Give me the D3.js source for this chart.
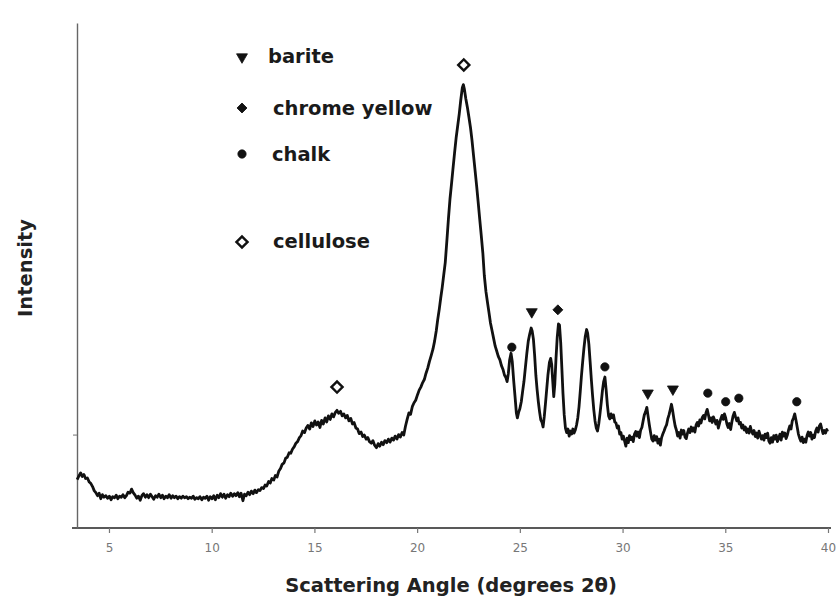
<!DOCTYPE html>
<html><head><meta charset="utf-8">
<script src="https://cdn.jsdelivr.net/npm/d3@7"></script>
<style>body{margin:0;background:#fff}svg{display:block}</style>
</head><body>
<svg id="chart" width="837" height="601"></svg>
<script>
// ---------- data (angle in degrees 2θ, intensity in arbitrary units) ----------
const lowAngleScan = [[3.45,9.6],[3.55,10.4],[3.62,10.9],[3.7,10.2],[3.78,10.6],[3.86,9.8],[3.95,9.9],[4.04,9.1],[4.12,8.8],[4.2,8.2],[4.28,7.4],[4.36,7.0],[4.44,6.4],[4.52,6.9],[4.6,5.8],[4.68,6.6],[4.76,6.1],
[4.85,6.4],[4.93,5.9],[5.02,6.3],[5.1,5.6],[5.18,6.2],[5.27,6.0],[5.35,6.5],[5.43,5.8],[5.52,6.3],[5.6,6.1],[5.68,6.6],[5.77,6.0],[5.85,6.4],[5.93,7.1],[6.02,6.9],[6.1,7.7],[6.18,7.0],[6.27,6.5],[6.35,5.9],[6.43,6.3],[6.52,5.5],[6.6,6.4],[6.68,6.8],[6.77,6.1],[6.85,6.6],[6.93,6.0],[7.02,6.7],[7.1,6.2],[7.18,5.7],[7.27,6.4],[7.35,6.1],[7.43,6.7],[7.52,6.0],[7.6,6.5],[7.68,5.8],[7.77,6.3],[7.85,6.0],[7.93,6.6],[8.02,5.9],[8.1,6.4],[8.18,6.0],[8.27,6.3],[8.35,5.8],[8.43,6.2],[8.52,5.9],[8.6,6.3],[8.68,6.0],[8.77,6.2],[8.85,5.8],[8.93,6.1],[9.02,5.9],[9.1,6.3],[9.18,5.7],[9.27,6.0],[9.35,5.8],[9.43,6.2],[9.52,5.6],[9.6,6.1],[9.68,5.9],[9.77,6.3],[9.85,5.5],[9.93,6.2],[10.02,5.8],[10.1,6.4],[10.18,5.6],[10.27,6.5],[10.35,6.0],[10.43,6.8],[10.52,6.1],[10.6,6.7],[10.68,5.9],[10.77,6.6],[10.85,6.2],[10.93,6.9],[11.02,6.3],[11.1,6.8],[11.18,6.4],[11.27,7.0],[11.35,6.2],[11.43,6.9],[11.52,5.4],[11.6,6.7],[11.68,6.4],[11.77,7.1],[11.85,6.6],[11.93,7.3],[12.02,6.8],[12.1,7.5],[12.18,7.0],[12.27,7.6],[12.35,7.4]];

const humpScan = [[12.43,8.0],[12.52,7.8],[12.6,8.5],[12.68,8.3],[12.77,9.2],[12.85,8.9],[12.93,9.8],[13.02,9.5],[13.1,10.4],[13.18,10.1],[13.27,11.3],[13.35,11.8],[13.43,12.6],[13.52,12.9],[13.6,13.8],[13.68,14.0],[13.77,14.9],[13.85,14.8],[13.93,15.6],[14.02,16.1],[14.1,16.8],[14.18,17.1],[14.27,17.9],[14.35,18.3],[14.43,19.2],[14.52,18.9],[14.6,19.8],[14.68,20.3],[14.77,19.6],[14.85,20.8],[14.93,20.1],[15.02,21.2],[15.1,20.4],[15.18,21.0],[15.27,19.9],[15.35,21.3],[15.43,20.6],[15.52,21.8],[15.6,21.0],[15.68,22.2],[15.77,21.5],[15.85,22.6],[15.93,22.0],[16.02,22.9],[16.1,23.3],[16.18,22.7],[16.27,23.1],[16.35,22.2],[16.43,22.6],[16.52,21.8],[16.6,22.3],[16.68,21.2],[16.77,21.7],[16.85,20.6],[16.93,20.9],[17.02,19.8],[17.1,19.6],[17.18,18.7],[17.27,19.0],[17.35,18.1],[17.43,18.4],[17.52,17.6],[17.6,17.9],[17.68,17.1],[17.77,16.8],[17.85,17.3],[17.93,16.4],[18.02,15.9],[18.1,16.7],[18.18,16.2],[18.27,17.0],[18.35,16.5],[18.43,17.3],[18.52,16.9],[18.6,17.6],[18.68,17.0],[18.77,17.8],[18.85,17.4],[18.93,18.2],[19.02,17.6],[19.1,18.5],[19.18,18.0],[19.27,18.9],[19.35,18.4]];

const peakScan = [[19.43,20.1],[19.52,21.6],[19.6,22.8],[19.68,22.5],[19.77,24.1],[19.85,24.8],[19.93,25.3],[20.02,26.4],[20.1,27.3],[20.18,27.9],[20.27,28.8],[20.35,29.4],[20.43,30.6],[20.52,31.7],[20.6,33.0],[20.68,34.1],[20.77,35.4],[20.85,37.0],[20.93,39.0],[21.0,41.2],[21.08,43.4],[21.15,45.6],[21.22,47.6],[21.3,50.3],[21.37,52.6],[21.45,57.0],[21.52,61.0],[21.6,65.2],[21.67,68.0],[21.74,70.9],[21.82,74.2],[21.9,77.3],[21.98,79.8],[22.05,82.0],[22.12,84.6],[22.2,87.2],[22.25,87.8],[22.3,86.9],[22.37,85.0],[22.45,83.2],[22.52,81.4],[22.6,79.2],[22.67,76.8],[22.75,73.6],[22.82,70.8],[22.9,67.6],[22.97,64.6],[23.05,61.0],[23.12,58.0],[23.2,54.4],[23.27,50.0],[23.35,46.8],[23.42,44.8],[23.5,42.6],[23.57,40.6],[23.65,39.0],[23.72,37.6],[23.8,36.0],[23.87,35.1],[23.95,34.0],[24.03,33.3],[24.1,32.2],[24.18,31.4],[24.25,30.3],[24.32,29.8],[24.38,29.0],[24.44,30.6],[24.5,33.2],[24.57,34.6],[24.63,33.0],[24.7,29.2],[24.77,25.8],[24.83,22.8],[24.88,21.8],[24.94,22.9],[25.0,23.6],[25.07,25.0],[25.14,27.2],[25.2,29.0],[25.27,31.8],[25.34,34.6],[25.41,37.0],[25.48,38.4],[25.55,39.6],[25.6,39.0],[25.66,37.4],[25.72,34.2],[25.78,30.2],[25.84,27.4],[25.9,25.0],[25.96,23.0],[26.02,21.4],[26.08,20.9],[26.13,20.0],[26.19,22.1],[26.25,24.8],[26.31,27.6],[26.37,30.4],[26.44,32.8],[26.5,33.6],[26.55,32.4],[26.6,29.2],[26.65,26.0],[26.7,28.4],[26.76,33.6],[26.82,37.8],[26.88,40.4],[26.93,40.2],[26.99,36.6],[27.05,31.2],[27.1,26.6],[27.16,22.4],[27.22,19.8],[27.28,18.9],[27.34,19.6],[27.4,18.2],[27.46,19.2],[27.52,18.6],[27.58,19.6],[27.64,18.8],[27.7,19.4],[27.76,20.4],[27.82,21.8],[27.88,24.0],[27.94,27.0],[28.0,30.2],[28.06,33.0],[28.12,35.6],[28.18,37.8],[28.25,39.3],[28.3,38.6],[28.36,36.4],[28.42,33.0],[28.48,29.4],[28.54,26.2],[28.6,23.4],[28.66,21.2],[28.72,19.8],[28.78,19.2],[28.84,20.6],[28.9,22.6],[28.96,24.8],[29.02,27.2],[29.08,29.0],[29.14,29.9],[29.2,27.4],[29.26,24.4],[29.32,22.2],[29.38,21.6],[29.44,22.6],[29.5,21.8],[29.56,22.4],[29.62,21.0],[29.68,20.8],[29.74,19.8],[29.8,20.2],[29.86,18.6],[29.92,18.9]];

const highAngleScan = [[29.98,17.6],[30.04,18.2],[30.1,17.2],[30.16,16.2],[30.22,17.8],[30.28,16.9],[30.34,18.3],[30.4,17.5],[30.46,18.0],[30.52,17.1],[30.58,18.6],[30.64,19.1],[30.7,18.2],[30.76,19.0],[30.82,17.9],[30.88,19.4],[30.94,19.9],[31.0,21.2],[31.06,22.4],[31.12,23.0],[31.18,23.9],[31.24,22.2],[31.3,20.5],[31.36,19.0],[31.42,17.6],[31.48,17.2],[31.54,18.3],[31.6,17.4],[31.66,18.1],[31.72,16.8],[31.78,17.6],[31.84,16.4],[31.9,17.9],[31.96,18.6],[32.02,19.2],[32.08,19.9],[32.14,20.4],[32.2,21.6],[32.26,22.4],[32.32,23.4],[32.38,24.5],[32.44,23.2],[32.5,21.6],[32.56,20.2],[32.62,19.4],[32.68,18.2],[32.74,18.9],[32.8,17.8],[32.86,19.4],[32.92,18.6],[32.98,19.3],[33.04,18.0],[33.1,17.7],[33.16,18.8],[33.22,19.6],[33.28,18.9],[33.34,20.0],[33.4,19.2],[33.46,19.8],[33.52,19.0],[33.58,20.4],[33.64,20.9],[33.7,20.2],[33.76,21.4],[33.82,20.8],[33.88,21.9],[33.94,22.3],[34.0,21.6],[34.06,22.8],[34.12,23.5],[34.18,22.4],[34.24,21.2],[34.3,21.8],[34.36,20.9],[34.42,22.0],[34.48,21.4],[34.54,20.6],[34.6,21.3],[34.66,19.8],[34.72,20.7],[34.78,21.6],[34.84,22.3],[34.9,21.5],[34.96,22.6],[35.02,21.8],[35.08,20.6],[35.14,19.9],[35.2,20.7],[35.26,19.5],[35.32,21.0],[35.38,22.2],[35.44,22.9],[35.5,22.0],[35.56,21.2],[35.62,21.8],[35.68,20.6],[35.74,20.9],[35.8,19.8],[35.86,20.4],[35.92,19.4],[35.98,20.0],[36.04,18.9],[36.1,19.6],[36.16,18.8],[36.22,20.1],[36.28,19.2],[36.34,18.6],[36.4,19.3],[36.46,18.1],[36.52,18.8],[36.58,17.8],[36.64,19.2],[36.7,18.4],[36.76,17.6],[36.82,18.3],[36.88,17.4],[36.94,18.6],[37.0,17.9],[37.06,18.8],[37.12,17.2],[37.18,16.8],[37.24,17.9],[37.3,17.0],[37.36,18.3],[37.42,17.6],[37.48,18.4],[37.54,17.1],[37.6,17.8],[37.66,18.6],[37.72,17.4],[37.78,19.0],[37.84,18.2],[37.9,18.8],[37.96,17.7],[38.02,18.4],[38.08,19.4],[38.14,20.2],[38.2,19.6],[38.26,21.2],[38.32,21.8],[38.38,22.6],[38.44,21.4],[38.5,20.0],[38.56,18.6],[38.62,17.8],[38.68,17.2],[38.74,18.0],[38.8,16.9],[38.86,17.6],[38.92,17.0],[38.98,18.3],[39.04,19.0],[39.1,18.2],[39.16,18.9],[39.22,17.6],[39.28,18.4],[39.34,17.9],[39.4,19.2],[39.46,19.8],[39.52,19.0],[39.58,20.2],[39.64,20.6],[39.7,19.6],[39.76,18.7],[39.82,19.3],[39.88,18.8],[39.94,19.5],[39.98,19.1]];

// peak markers: [angle, intensity]
const bariteMarks = [[25.58,42.8],[31.23,26.7],[32.45,27.5]];
const chromeYellowMarks = [[26.85,43.2]];
const chalkMarks = [[24.61,35.8],[29.14,31.9],[34.15,26.7],[35.02,25.0],[35.66,25.7],[38.48,25.0]];
const celluloseMarks = [[16.1,27.9],[22.27,91.7]];

const legendLabels = ["barite","chrome yellow","chalk","cellulose"];
const xTicks = [5,10,15,20,25,30,35,40];
const yTicks = [18.5];

const xLabel = "Scattering Angle (degrees 2θ)";
const yLabel = "Intensity";

// ---------- drawing ----------
const svg = d3.select("#chart");
const x = d3.scaleLinear().domain([3.2, 40]).range([72, 828]);
const y = d3.scaleLinear().domain([0, 100]).range([528, 23]);
const FONT = "'DejaVu Sans', sans-serif";

// x axis
const xAxis = svg.append("g").attr("transform","translate(0,528)")
  .call(d3.axisBottom(x).tickValues(xTicks).tickSize(5).tickSizeOuter(0).tickFormat(d3.format("d")));
xAxis.select(".domain").attr("stroke","#222").attr("stroke-width",1.6).attr("d","M72,0H831");
xAxis.selectAll(".tick line").attr("stroke","#777").attr("stroke-width",1.2);
xAxis.selectAll(".tick text").attr("fill","#777").attr("font-family",FONT).attr("font-size",12).attr("dy","1.3em");

// y axis
const yAxis = svg.append("g").attr("transform","translate(77,0)")
  .call(d3.axisLeft(y).tickValues(yTicks).tickSize(4).tickSizeOuter(0).tickFormat(""));
yAxis.select(".domain").attr("stroke","#666").attr("stroke-width",1.4);
yAxis.selectAll(".tick line").attr("stroke","#888").attr("stroke-width",1.2);

// spectrum
const line = d3.line().x(d => x(d[0])).y(d => y(d[1]));
const spectrum = [].concat(lowAngleScan, humpScan, peakScan, highAngleScan);
svg.append("path").datum(spectrum)
  .attr("d", line).attr("fill","none").attr("stroke","#111")
  .attr("stroke-width",2.8).attr("stroke-linejoin","round");

// marker symbols
const sym = {
  barite: d3.symbol().type(d3.symbolTriangle).size(52),
  chrome: d3.symbol().type(d3.symbolSquare).size(50),
  chalk: d3.symbol().type(d3.symbolCircle).size(54),
  cellulose: d3.symbol().type(d3.symbolSquare).size(62)
};
const rotations = {barite: 180, chrome: 45, chalk: 0, cellulose: 45};
function drawMarks(data, key, filled) {
  svg.append("g").selectAll("path").data(data).join("path")
    .attr("d", sym[key]())
    .attr("transform", d => `translate(${x(d[0])},${y(d[1])}) rotate(${rotations[key]})`)
    .attr("fill", filled ? "#111" : "#fff")
    .attr("stroke", "#111").attr("stroke-width", filled ? 0.8 : 2.4);
}
drawMarks(bariteMarks, "barite", true);
drawMarks(chromeYellowMarks, "chrome", true);
drawMarks(chalkMarks, "chalk", true);
drawMarks(celluloseMarks, "cellulose", false);

// legend
const legendRows = [
  {label: legendLabels[0], key: "barite", filled: true, my: 57, ty: 63, tx: 268},
  {label: legendLabels[1], key: "chrome", filled: true, my: 108, ty: 115, tx: 273},
  {label: legendLabels[2], key: "chalk", filled: true, my: 154, ty: 161, tx: 272},
  {label: legendLabels[3], key: "cellulose", filled: false, my: 242, ty: 248, tx: 273}
];
const lg = svg.append("g");
legendRows.forEach(r => {
  lg.append("path").attr("d", sym[r.key]())
    .attr("transform", `translate(242,${r.my}) rotate(${rotations[r.key]})`)
    .attr("fill", r.filled ? "#111" : "#fff").attr("stroke","#111")
    .attr("stroke-width", r.filled ? 0.8 : 2.4);
  lg.append("text").attr("x", r.tx).attr("y", r.ty).text(r.label)
    .attr("font-family", FONT).attr("font-size", 19.5).attr("font-weight","bold").attr("fill","#1a1a1a");
});

// axis titles
svg.append("text").attr("x", 451).attr("y", 592).attr("text-anchor","middle")
  .attr("font-family", FONT).attr("font-size", 19.5).attr("font-weight","bold").attr("fill","#222")
  .text(xLabel);
svg.append("text").attr("transform","translate(32,268) rotate(-90)").attr("text-anchor","middle")
  .attr("font-family", FONT).attr("font-size", 19.5).attr("font-weight","bold").attr("fill","#222")
  .text(yLabel);
</script>
</body></html>
